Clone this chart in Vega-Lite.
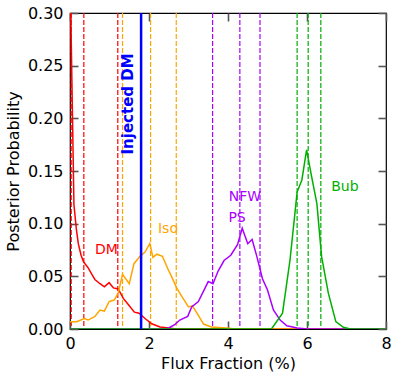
{
  "$schema": "https://vega.github.io/schema/vega-lite/v6.json",
  "width": 316,
  "height": 316,
  "autosize": {"type": "none"},
  "padding": {"left": 70, "top": 13, "right": 12, "bottom": 49},
  "config": {
    "view": {"stroke": "black", "strokeWidth": 1.2},
    "font": "DejaVu Sans",
    "scale": {"continuousPadding": 0},
    "axis": {
      "grid": false,
      "domain": false,
      "labelFlush": false,
      "tickColor": "#555555",
      "tickWidth": 1.6,
      "tickSize": -8,
      "labelFont": "DejaVu Sans",
      "labelFontSize": 16,
      "labelColor": "black",
      "titleFont": "DejaVu Sans",
      "titleFontSize": 16,
      "titleFontWeight": "normal",
      "titleColor": "black"
    }
  },
  "datasets": {
    "curves": [
      {"series": "DM", "x": 0, "y": 0.345},
      {"series": "DM", "x": 0.1, "y": 0.118},
      {"series": "DM", "x": 0.16, "y": 0.095},
      {"series": "DM", "x": 0.21, "y": 0.081},
      {"series": "DM", "x": 0.28, "y": 0.07},
      {"series": "DM", "x": 0.34, "y": 0.064},
      {"series": "DM", "x": 0.4, "y": 0.061},
      {"series": "DM", "x": 0.46, "y": 0.058},
      {"series": "DM", "x": 0.55, "y": 0.052},
      {"series": "DM", "x": 0.63, "y": 0.047},
      {"series": "DM", "x": 0.76, "y": 0.043},
      {"series": "DM", "x": 0.87, "y": 0.04},
      {"series": "DM", "x": 0.99, "y": 0.044},
      {"series": "DM", "x": 1.1, "y": 0.039},
      {"series": "DM", "x": 1.22, "y": 0.038},
      {"series": "DM", "x": 1.35, "y": 0.029},
      {"series": "DM", "x": 1.48, "y": 0.023},
      {"series": "DM", "x": 1.63, "y": 0.016},
      {"series": "DM", "x": 1.75, "y": 0.015},
      {"series": "DM", "x": 1.9, "y": 0.01},
      {"series": "DM", "x": 2.07, "y": 0.005},
      {"series": "DM", "x": 2.28, "y": 0.002},
      {"series": "DM", "x": 2.5, "y": 0.001},
      {"series": "DM", "x": 2.7, "y": 0},
      {"series": "DM", "x": 8, "y": 0},
      {"series": "Iso", "x": 0, "y": 0.007},
      {"series": "Iso", "x": 0.17, "y": 0.007},
      {"series": "Iso", "x": 0.36, "y": 0.01},
      {"series": "Iso", "x": 0.46, "y": 0.0085},
      {"series": "Iso", "x": 0.63, "y": 0.012},
      {"series": "Iso", "x": 0.76, "y": 0.018},
      {"series": "Iso", "x": 0.87, "y": 0.017},
      {"series": "Iso", "x": 0.99, "y": 0.026},
      {"series": "Iso", "x": 1.12, "y": 0.0275},
      {"series": "Iso", "x": 1.22, "y": 0.034},
      {"series": "Iso", "x": 1.33, "y": 0.052},
      {"series": "Iso", "x": 1.5, "y": 0.043},
      {"series": "Iso", "x": 1.62, "y": 0.062},
      {"series": "Iso", "x": 1.77, "y": 0.069},
      {"series": "Iso", "x": 1.9, "y": 0.073},
      {"series": "Iso", "x": 2.02, "y": 0.081},
      {"series": "Iso", "x": 2.1, "y": 0.068},
      {"series": "Iso", "x": 2.2, "y": 0.071},
      {"series": "Iso", "x": 2.34, "y": 0.069},
      {"series": "Iso", "x": 2.49, "y": 0.056},
      {"series": "Iso", "x": 2.57, "y": 0.05},
      {"series": "Iso", "x": 2.7, "y": 0.039},
      {"series": "Iso", "x": 2.83, "y": 0.031},
      {"series": "Iso", "x": 3.0, "y": 0.021},
      {"series": "Iso", "x": 3.1, "y": 0.022},
      {"series": "Iso", "x": 3.25, "y": 0.013},
      {"series": "Iso", "x": 3.38, "y": 0.0047},
      {"series": "Iso", "x": 3.58, "y": 0.002},
      {"series": "Iso", "x": 3.95, "y": 0.001},
      {"series": "Iso", "x": 4.2, "y": 0},
      {"series": "Iso", "x": 8, "y": 0},
      {"series": "NFW", "x": 0, "y": 0},
      {"series": "NFW", "x": 2.4, "y": 0},
      {"series": "NFW", "x": 2.5, "y": 0.001},
      {"series": "NFW", "x": 2.66, "y": 0.0044},
      {"series": "NFW", "x": 2.78, "y": 0.0085},
      {"series": "NFW", "x": 2.98, "y": 0.012},
      {"series": "NFW", "x": 3.08, "y": 0.021},
      {"series": "NFW", "x": 3.25, "y": 0.026},
      {"series": "NFW", "x": 3.5, "y": 0.045},
      {"series": "NFW", "x": 3.62, "y": 0.043},
      {"series": "NFW", "x": 3.75, "y": 0.055},
      {"series": "NFW", "x": 3.9, "y": 0.065},
      {"series": "NFW", "x": 4.07, "y": 0.07},
      {"series": "NFW", "x": 4.24, "y": 0.08},
      {"series": "NFW", "x": 4.36, "y": 0.0956},
      {"series": "NFW", "x": 4.5, "y": 0.081},
      {"series": "NFW", "x": 4.61, "y": 0.085},
      {"series": "NFW", "x": 4.73, "y": 0.069},
      {"series": "NFW", "x": 4.87, "y": 0.048},
      {"series": "NFW", "x": 5.0, "y": 0.037},
      {"series": "NFW", "x": 5.15, "y": 0.018},
      {"series": "NFW", "x": 5.32, "y": 0.0085},
      {"series": "NFW", "x": 5.49, "y": 0.003},
      {"series": "NFW", "x": 5.75, "y": 0.001},
      {"series": "NFW", "x": 6.0, "y": 0},
      {"series": "NFW", "x": 8, "y": 0},
      {"series": "Bub", "x": 0, "y": 0},
      {"series": "Bub", "x": 5.1, "y": 0},
      {"series": "Bub", "x": 5.38, "y": 0.015},
      {"series": "Bub", "x": 5.57, "y": 0.0655},
      {"series": "Bub", "x": 5.75, "y": 0.13},
      {"series": "Bub", "x": 5.87, "y": 0.1415},
      {"series": "Bub", "x": 5.99, "y": 0.17},
      {"series": "Bub", "x": 6.1, "y": 0.148},
      {"series": "Bub", "x": 6.25, "y": 0.119},
      {"series": "Bub", "x": 6.37, "y": 0.0687},
      {"series": "Bub", "x": 6.54, "y": 0.034},
      {"series": "Bub", "x": 6.73, "y": 0.007},
      {"series": "Bub", "x": 6.92, "y": 0.0016},
      {"series": "Bub", "x": 7.1, "y": 0},
      {"series": "Bub", "x": 8, "y": 0}
    ],
    "vlines": [
      {"series": "DM", "x": 0.03},
      {"series": "DM", "x": 0.35},
      {"series": "DM", "x": 1.21},
      {"series": "Iso", "x": 1.33},
      {"series": "Iso", "x": 2.04},
      {"series": "Iso", "x": 2.69},
      {"series": "NFW", "x": 3.61},
      {"series": "NFW", "x": 4.3},
      {"series": "NFW", "x": 4.81},
      {"series": "Bub", "x": 5.75},
      {"series": "Bub", "x": 6.03},
      {"series": "Bub", "x": 6.35}
    ],
    "injected": [
      {"series": "Injected", "x": 1.8, "y": 0.2137, "label": "Injected DM", "lx": 1.476}
    ],
    "labels": [
      {"series": "DM", "label": "DM", "x": 0.92, "y": 0.075},
      {"series": "Iso", "label": "Iso", "x": 2.48, "y": 0.0947},
      {"series": "NFW", "label": "NFW", "x": 4.43, "y": 0.1257},
      {"series": "NFW", "label": "PS", "x": 4.23, "y": 0.105},
      {"series": "Bub", "label": "Bub", "x": 6.96, "y": 0.1346}
    ]
  },
  "layer": [
    {
      "data": {"name": "vlines"},
      "mark": {"type": "rule", "strokeDash": [5, 2], "strokeWidth": 1.2},
      "encoding": {
        "x": {"field": "x", "type": "quantitative", "scale": {"domain": [0, 8], "nice": false, "padding": 0},
              "axis": {"orient": "top", "labels": false, "title": null, "values": [0, 2, 4, 6, 8]}},
        "color": {"field": "series", "type": "nominal",
                  "scale": {"domain": ["DM", "Iso", "NFW", "Bub", "Injected"], "range": ["#ff0000", "#ffa500", "#aa00ff", "#00b000", "#0000ff"]},
                  "legend": null}
      }
    },
    {
      "data": {"name": "curves"},
      "mark": {"type": "line", "strokeWidth": 1.5, "clip": true},
      "encoding": {
        "x": {"field": "x", "type": "quantitative", "scale": {"domain": [0, 8], "nice": false, "padding": 0},
              "axis": {"orient": "bottom", "title": "Flux Fraction (%)", "values": [0, 2, 4, 6, 8], "labelPadding": 14, "titlePadding": 4}},
        "y": {"field": "y", "type": "quantitative", "scale": {"domain": [0, 0.3], "nice": false, "padding": 0},
              "axis": {"orient": "left", "title": "Posterior Probability", "values": [0, 0.05, 0.1, 0.15, 0.2, 0.25, 0.3], "format": ".2f", "labelPadding": 15, "titlePadding": 6}},
        "color": {"field": "series", "type": "nominal", "legend": null}
      }
    },
    {
      "data": {"name": "injected"},
      "mark": {"type": "rule", "strokeWidth": 2.5},
      "encoding": {
        "x": {"field": "x", "type": "quantitative", "axis": null},
        "color": {"field": "series", "type": "nominal", "legend": null}
      }
    },
    {
      "data": {"name": "injected"},
      "mark": {"type": "text", "angle": 270, "fontWeight": "bold", "fontSize": 15, "align": "center", "baseline": "middle", "font": "DejaVu Sans"},
      "encoding": {
        "x": {"field": "lx", "type": "quantitative", "axis": null},
        "y": {"field": "y", "type": "quantitative", "axis": null},
        "text": {"field": "label"},
        "color": {"field": "series", "type": "nominal", "legend": null}
      }
    },
    {
      "data": {"name": "labels"},
      "mark": {"type": "text", "fontSize": 14, "align": "center", "baseline": "middle", "font": "DejaVu Sans"},
      "encoding": {
        "x": {"field": "x", "type": "quantitative", "axis": null},
        "y": {"field": "y", "type": "quantitative",
              "axis": {"orient": "right", "labels": false, "title": null, "values": [0, 0.05, 0.1, 0.15, 0.2, 0.25, 0.3]}},
        "text": {"field": "label"},
        "color": {"field": "series", "type": "nominal", "legend": null}
      }
    }
  ],
  "resolve": {"axis": {"x": "independent", "y": "independent"}}
}
